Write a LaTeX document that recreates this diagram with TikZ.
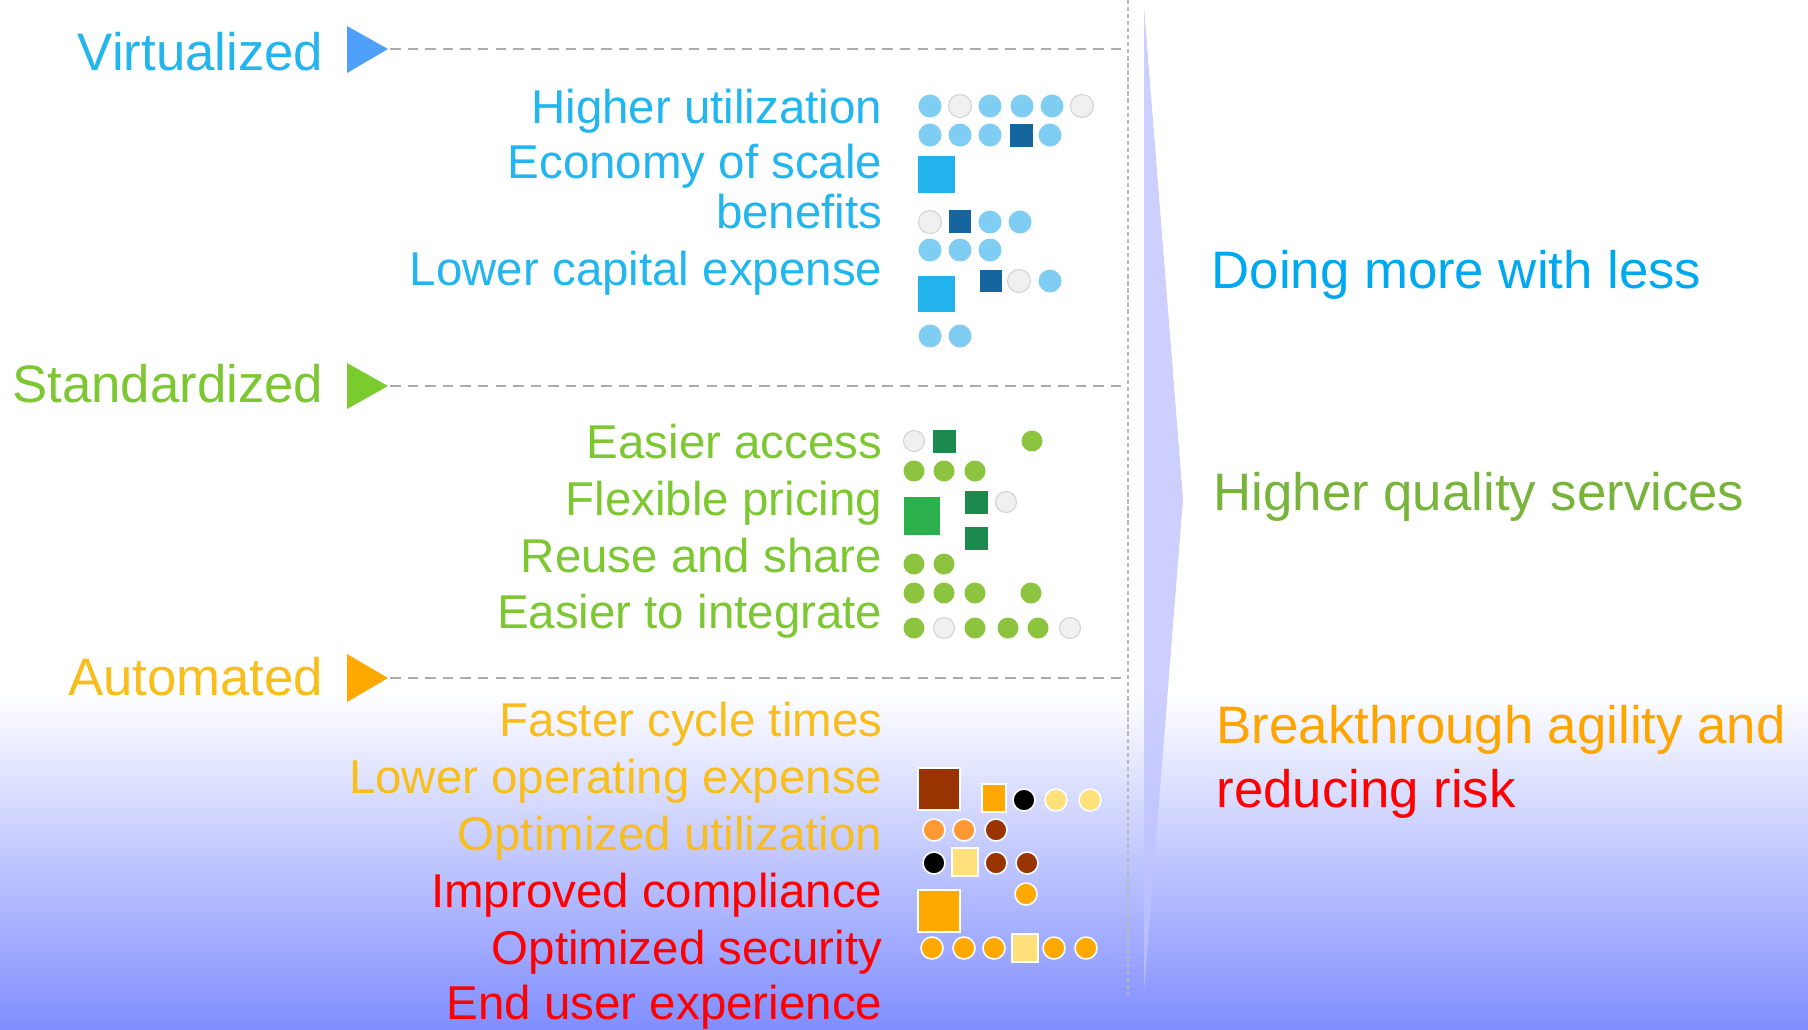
\documentclass[tikz,border=0pt]{standalone}
\usepackage{fontspec}
\setmainfont{Liberation Sans}
\usepackage{xcolor}
\usetikzlibrary{calc,positioning}

\definecolor{virtblue}{HTML}{22B5EE}
\definecolor{tribl}{HTML}{4FA0F8}
\definecolor{stdgreen}{HTML}{7DC832}
\definecolor{trigr}{HTML}{7ACC2E}
\definecolor{autogold}{HTML}{F8BE1C}
\definecolor{triorange}{HTML}{FFA800}
\definecolor{doblue}{HTML}{00A8F0}
\definecolor{qualgreen}{HTML}{78B43C}
\definecolor{riskred}{HTML}{FF0000}
\definecolor{agileorange}{HTML}{FFA500}
\definecolor{dotblue}{HTML}{7FCDF2}
\definecolor{dotdark}{HTML}{15659E}
\definecolor{sqblue}{HTML}{22B3EC}
\definecolor{dotgray}{HTML}{F0F0F0}
\definecolor{dotgreen}{HTML}{8CC43F}
\definecolor{sqgreen}{HTML}{2BB04B}
\definecolor{darkgreen}{HTML}{1B8A4C}
\definecolor{rust}{HTML}{993300}
\definecolor{amber}{HTML}{FFA800}
\definecolor{peach}{HTML}{FF9933}
\definecolor{paleyel}{HTML}{FFE07A}
\definecolor{bgblue}{RGB}{128,142,255}
\definecolor{chevron}{HTML}{C0C3FF}

\begin{document}
\begin{tikzpicture}[x=0.01cm,y=-0.01cm,
		guide/.style={gray!65,line width=0.6pt,dash pattern=on 3pt off 2pt},
		spine/.style={gray!55,line width=0.7pt,dash pattern=on 1.2pt off 0.8pt},
		stage/.style={font=\fontsize{15}{18}\selectfont,anchor=base east,inner sep=0pt},
		item/.style={font=\fontsize{13.5}{16}\selectfont,anchor=base east,inner sep=0pt},
		gain/.style={font=\fontsize{15}{18}\selectfont,anchor=base west,inner sep=0pt},
		gdot/.style={fill=dotgray,draw=gray!35,line width=0.3pt},
		odot/.style={draw=white,line width=0.45pt}]
		\useasboundingbox (0,0) rectangle (1808,1029);
		% background and big arrow
		\shade[top color=white,bottom color=bgblue] (0,692) rectangle (1808,1029);
		\fill[chevron,opacity=0.8] (1144,7) -- (1183,499) -- (1144,991) -- cycle;
		% dashed guides
		\coordinate (spinetop) at (1128,0);
		\coordinate (spinebot) at (1128,994);
		\draw[spine] (spinetop) -- (spinebot);
		\coordinate (vtip) at (390,49);
		\coordinate (vend) at (1128,49);
		\coordinate (stip) at (390,386);
		\coordinate (send) at (1128,386);
		\coordinate (atip) at (390,678);
		\coordinate (aend) at (1128,678);
		\draw[guide] (vtip) -- (vend);
		\draw[guide] (stip) -- (send);
		\draw[guide] (atip) -- (aend);
		\fill[tribl] (347,26) -- (388,49) -- (347,73) -- cycle;
		\fill[trigr] (347,363) -- (388,386) -- (347,409) -- cycle;
		\fill[triorange] (347,654) -- (388,678) -- (347,702) -- cycle;
		% stage labels
		\node[stage,text=virtblue] (virt) at (324,70) {Virtualized};
		\node[stage,text=stdgreen] (std) at (324,402) {Standardized};
		\node[stage,text=autogold] (auto) at (324,695) {Automated};
		% items
		\node[item,text=virtblue] (util) at (883,123) {Higher utilization};
		\node[item,text=virtblue] (scale) at (883,178) {Economy of scale};
		\node[item,text=virtblue] (benef) at (883,228) {benefits};
		\node[item,text=virtblue] (capex) at (883,285) {Lower capital expense};
		\node[item,text=stdgreen] (access) at (883,458) {Easier access};
		\node[item,text=stdgreen] (pricing) at (883,515) {Flexible pricing};
		\node[item,text=stdgreen] (reuse) at (883,572) {Reuse and share};
		\node[item,text=stdgreen] (integ) at (883,628) {Easier to integrate};
		\node[item,text=autogold] (cycle) at (883,736) {Faster cycle times};
		\node[item,text=autogold] (opex) at (883,793) {Lower operating expense};
		\node[item,text=autogold] (optutil) at (883,850) {Optimized utilization};
		\node[item,text=riskred] (compl) at (883,907) {Improved compliance};
		\node[item,text=riskred] (secur) at (883,964) {Optimized security};
		\node[item,text=riskred] (euser) at (883,1019) {End user experience};
		% outcomes
		\node[gain,text=doblue] (less) at (1211,288) {Doing more with less};
		\node[gain,text=qualgreen] (quality) at (1213,510) {Higher quality services};
		\node[gain,text=agileorange] (agile) at (1216,743) {Breakthrough agility and};
		\node[gain,text=riskred] (risk) at (1216,807) {reducing risk};
		% virtualized dots
		\foreach \x in {930,990,1022,1052} \fill[dotblue] (\x,106) circle (11.5);
		\foreach \x in {960,1082} \path[gdot] (\x,106) circle (11.5);
		\foreach \x in {930,960,990,1050} \fill[dotblue] (\x,135) circle (11.5);
		\fill[dotdark] (1010,124) rectangle (1033,147);
		\fill[sqblue] (918,156) rectangle (955,193);
		\path[gdot] (930,222) circle (11.5);
		\fill[dotdark] (949,210) rectangle (971,233);
		\foreach \x in {990,1020} \fill[dotblue] (\x,222) circle (11.5);
		\foreach \x in {930,960,990} \fill[dotblue] (\x,250) circle (11.5);
		\fill[sqblue] (918,276) rectangle (955,312);
		\fill[dotdark] (980,270) rectangle (1002,292);
		\path[gdot] (1019,281) circle (11.5);
		\fill[dotblue] (1050,281) circle (11.5);
		\foreach \x in {930,960} \fill[dotblue] (\x,336) circle (11.5);
		% standardized dots
		\path[gdot] (914,441) circle (10.5);
		\fill[darkgreen] (933,430) rectangle (956,453);
		\fill[dotgreen] (1032,441) circle (10.5);
		\foreach \x in {914,944,975} \fill[dotgreen] (\x,471) circle (10.5);
		\fill[sqgreen] (904,497) rectangle (940,535);
		\fill[darkgreen] (965,491) rectangle (988,514);
		\path[gdot] (1006,502) circle (10.5);
		\fill[darkgreen] (965,527) rectangle (988,550);
		\foreach \x in {914,944} \fill[dotgreen] (\x,564) circle (10.5);
		\foreach \x in {914,944,975,1031} \fill[dotgreen] (\x,593) circle (10.5);
		\foreach \x in {914,975,1008,1038} \fill[dotgreen] (\x,628) circle (10.5);
		\foreach \x in {944,1070} \path[gdot] (\x,628) circle (10.5);
		% automated dots
		\filldraw[odot,fill=rust] (918,768) rectangle (960,810);
		\filldraw[odot,fill=amber] (982,784) rectangle (1006,812);
		\filldraw[odot,fill=black] (1024,800) circle (11);
		\foreach \x in {1056,1090} \filldraw[odot,fill=paleyel] (\x,800) circle (11);
		\foreach \x in {934,964} \filldraw[odot,fill=peach] (\x,830) circle (11);
		\filldraw[odot,fill=rust] (996,830) circle (11);
		\filldraw[odot,fill=black] (934,863) circle (11);
		\filldraw[odot,fill=paleyel] (952,848) rectangle (978,876);
		\foreach \x in {996,1027} \filldraw[odot,fill=rust] (\x,863) circle (11);
		\filldraw[odot,fill=amber] (1026,894) circle (11);
		\filldraw[odot,fill=amber] (918,890) rectangle (960,932);
		\foreach \x in {932,964,994,1054,1086} \filldraw[odot,fill=amber] (\x,948) circle (11);
		\filldraw[odot,fill=paleyel] (1012,934) rectangle (1038,962);
\end{tikzpicture}
\end{document}
